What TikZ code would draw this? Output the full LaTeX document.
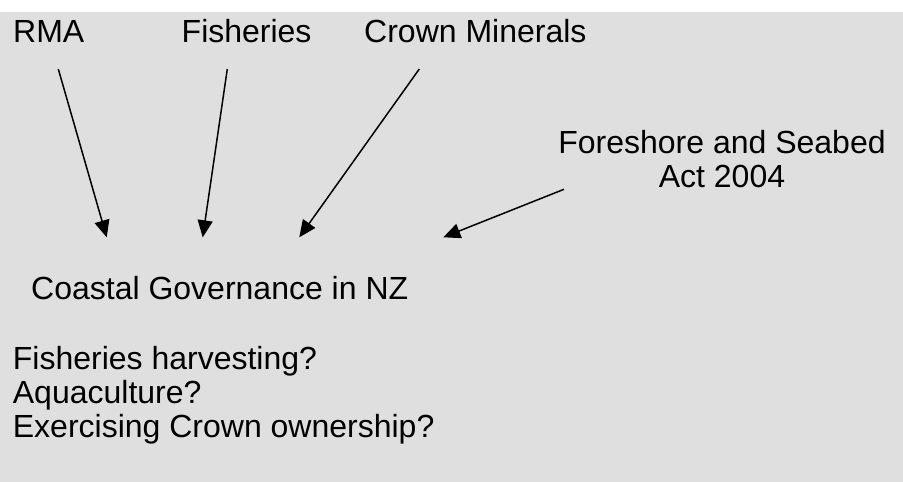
\documentclass[tikz,border=0pt]{standalone}
\usepackage{fontspec}
\setmainfont{Liberation Sans}
\usetikzlibrary{arrows.meta}
\definecolor{bggray}{HTML}{DFDFDF}
\tikzset{
  lbl/.style={anchor=base west, inner sep=0pt, font=\fontsize{32}{34}\selectfont},
  arr/.style={line width=1.5pt, -{Triangle[length=17pt,width=15pt]}}
}
\begin{document}
\begin{tikzpicture}[x=1pt,y=-1pt]
\useasboundingbox (0,0) rectangle (903,482);
\fill[bggray] (0,12) rectangle (903,482);

\node[lbl] (rma) at (13,42) {RMA};
\node[lbl] (fish) at (181.5,42) {Fisheries};
\node[lbl] (crown) at (364,42) {Crown Minerals};
\node[lbl, anchor=base, align=center] (fsa) at (722,187.3) {Foreshore and Seabed\\Act 2004\hspace{6pt}};
\node[lbl] (cg) at (31,299.3) {Coastal Governance in NZ};
\node[lbl, align=left] (qs) at (12.7,437.3) {Fisheries harvesting?\\Aquaculture?\\Exercising Crown ownership?};

\coordinate (rmaS) at (58.3,69);
\coordinate (rmaT) at (106.7,237.3);
\coordinate (fishS) at (227.3,69);
\coordinate (fishT) at (202.7,237.3);
\coordinate (crownS) at (419.3,69);
\coordinate (crownT) at (299.3,237.3);
\coordinate (fsaS) at (564,189.3);
\coordinate (fsaT) at (443.3,237.3);

\draw[arr] (rmaS) -- (rmaT);
\draw[arr] (fishS) -- (fishT);
\draw[arr] (crownS) -- (crownT);
\draw[arr] (fsaS) -- (fsaT);
\end{tikzpicture}
\end{document}
